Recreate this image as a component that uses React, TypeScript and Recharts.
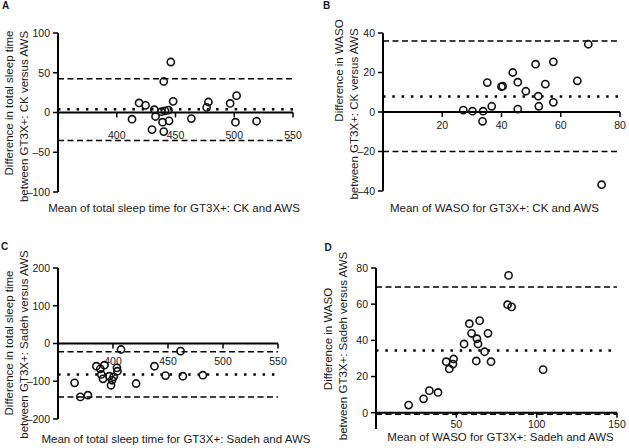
import { ScatterChart, Scatter, XAxis, YAxis, ReferenceLine, ReferenceDot } from 'recharts'

const FONT = '"Liberation Sans", Arial, Helvetica, sans-serif'
const INK = '#1a1a1a'

// A: total sleep time, GT3X+ CK vs AWS
const tstCkMean = [446, 440, 419, 424.5, 448, 432, 438, 441, 444, 433, 413, 444.5, 439, 430, 440, 463.5, 478, 476.5, 496.5, 502, 501, 519]
const tstCkDiff = [63.5, 39, 12, 9, 14, 3.5, 1, 2, 3, -5, -8.4, -10.5, -12.2, -21.6, -24, -7.6, 13.2, 6.4, 11.4, 21.2, -12.2, -11]
const tstCkLimits = [42.4, 4.2, -35.2] // upper LoA, bias, lower LoA

// B: WASO, GT3X+ CK vs AWS
const wasoCkMean = [69.3, 51.5, 57.5, 43.8, 35.2, 40, 40.4, 45.5, 54.8, 65.6, 48.2, 52.4, 57.5, 52.6, 36.7, 45.5, 27.1, 30.2, 33.8, 33.6, 73.8]
const wasoCkDiff = [34.3, 24.2, 25.4, 20, 14.9, 12.8, 13.1, 15.1, 14.1, 15.8, 10.5, 8, 4.9, 2.9, 2.9, 1.5, 1, 0.4, 0.4, -4.7, -36.8]
const wasoCkLimits = [36, 7.8, -20]

// C: total sleep time, GT3X+ Sadeh vs AWS
const tstSadehMean = [407.3, 461.4, 384.9, 388.5, 392.2, 403.6, 404, 437.7, 389.4, 390.9, 396.7, 400.6, 399.1, 398.2, 365.1, 421, 447.7, 463.5, 481.7, 370.3, 377.2]
const tstSadehDiff = [-15.9, -20.3, -60.2, -67, -57.5, -64.5, -73.4, -60.2, -82, -93.7, -86.7, -88.4, -97.3, -110.6, -104.3, -106, -85, -86.7, -84, -141.5, -137]
const tstSadehLimits = [-22, -82.2, -141.5]

// D: WASO, GT3X+ Sadeh vs AWS
const wasoSadehMean = [82.5, 81.9, 84.4, 58.1, 64.5, 59.5, 69.7, 62.8, 63.5, 54.8, 67.6, 62.4, 71.6, 43.7, 48.3, 47.9, 45.6, 33.2, 38.6, 29.6, 20.3, 104]
const wasoSadehDiff = [75.9, 59.7, 58.5, 49.2, 50.9, 43.9, 43.9, 40.9, 38, 38, 33.7, 28.6, 28.2, 28.2, 29.7, 26.9, 24.2, 12.2, 11.2, 7.7, 4.2, 23.8]
const wasoSadehLimits = [69.5, 34.4, -0.9]

const zip = (xs: number[], ys: number[]) => xs.map((x, i) => ({ x, y: ys[i] }))

const ring = (p: any) => <circle cx={p.cx} cy={p.cy} r={3.6} fill="none" stroke="#111" strokeWidth={1.6} />

const yTick = (p: any) => (
  <text x={p.x} y={p.y} dy={3.8} textAnchor="end" fontSize={10.5} fill={INK} fontFamily={FONT}>
    {String(p.payload.value).replace('-', '\u2013')}
  </text>
)

const xTick = (value: number, gap: number) => (p: any) => (
  <g>
    <line x1={p.cx} y1={p.cy} x2={p.cx} y2={p.cy + 5} stroke="#000" strokeWidth={1.5} />
    <text x={p.cx} y={p.cy + gap} textAnchor="middle" fontSize={10.5} fill={INK} fontFamily={FONT}>{value}</text>
  </g>
)

function Panel({ left, top, mean, diff, limits, xDomain, xTicks, yDomain, yTicks, margin, yWidth, gap }: any) {
  return (
    <div style={{ position: 'absolute', left, top }}>
      <ScatterChart width={314} height={224} margin={margin}>
        <XAxis type="number" dataKey="x" domain={xDomain} allowDataOverflow hide />
        <YAxis type="number" dataKey="y" domain={yDomain} ticks={yTicks} interval={0} allowDataOverflow width={yWidth}
          axisLine={{ stroke: '#000', strokeWidth: 2 }} tickLine={{ stroke: '#000', strokeWidth: 1.5 }} tickSize={5} tickMargin={3}
          tick={yTick} />
        <ReferenceLine y={0} stroke="#000" strokeWidth={2} />
        <ReferenceLine y={limits[0]} stroke="#000" strokeWidth={1.5} strokeDasharray="6 3.5" />
        <ReferenceLine y={limits[2]} stroke="#000" strokeWidth={1.5} strokeDasharray="6 3.5" />
        <ReferenceLine y={limits[1]} stroke="#000" strokeWidth={2.5} strokeDasharray="2.5 6.8" />
        {xTicks.map((t: number) => (
          <ReferenceDot key={t} x={t} y={0} r={0} shape={xTick(t, gap)} />
        ))}
        <Scatter data={zip(mean, diff)} shape={ring} isAnimationActive={false} />
      </ScatterChart>
    </div>
  )
}

const T = { fontFamily: FONT, fill: INK, fontSize: 11.5 }

export default function App() {
  return (
    <div style={{ position: 'absolute', left: 0, top: 0, width: 629, height: 448, background: '#fff', overflow: 'hidden' }}>
      <Panel left={0} top={0} mean={tstCkMean} diff={tstCkDiff} limits={tstCkLimits}
        xDomain={[350, 550]} xTicks={[400, 450, 500, 550]} yDomain={[-100, 100]} yTicks={[-100, -50, 0, 50, 100]}
        margin={{ top: 33, right: 21, bottom: 32, left: 0 }} yWidth={58} gap={26} />
      <Panel left={314} top={0} mean={wasoCkMean} diff={wasoCkDiff} limits={wasoCkLimits}
        xDomain={[0, 80]} xTicks={[20, 40, 60, 80]} yDomain={[-40, 40]} yTicks={[-40, -20, 0, 20, 40]}
        margin={{ top: 33, right: 8, bottom: 33, left: 0 }} yWidth={69} gap={16.5} />
      <Panel left={0} top={224} mean={tstSadehMean} diff={tstSadehDiff} limits={tstSadehLimits}
        xDomain={[350, 550]} xTicks={[400, 450, 500, 550]} yDomain={[-200, 200]} yTicks={[-200, -100, 0, 100, 200]}
        margin={{ top: 44, right: 36, bottom: 29, left: 0 }} yWidth={58} gap={21} />
      <Panel left={314} top={224} mean={wasoSadehMean} diff={wasoSadehDiff} limits={wasoSadehLimits}
        xDomain={[0, 150]} xTicks={[50, 100, 150]} yDomain={[-9, 80]} yTicks={[0, 20, 40, 60, 80]}
        margin={{ top: 44, right: 11, bottom: 19, left: 0 }} yWidth={62} gap={15} />

      <svg width={629} height={448} style={{ position: 'absolute', left: 0, top: 0, pointerEvents: 'none' }}>
        <g fontFamily={FONT} fontWeight="bold" fontSize={10} fill={INK}>
          <text x={2} y={9}>A</text>
          <text x={323} y={8.5}>B</text>
          <text x={1} y={250}>C</text>
          <text x={324.5} y={251}>D</text>
        </g>
        <g {...T} textAnchor="middle" dominantBaseline="central">
          <text transform="translate(8.5,103) rotate(-90)">Difference in total sleep time</text>
          <text transform="translate(23.5,116.5) rotate(-90)">between GT3X+: CK versus AWS</text>
          <text x={174} y={208}>Mean of total sleep time for GT3X+: CK and AWS</text>

          <text transform="translate(339,70.5) rotate(-90)">Difference in WASO</text>
          <text transform="translate(354,114) rotate(-90)">between GT3X+: CK versus AWS</text>
          <text x={494.5} y={208}>Mean of WASO for GT3X+: CK and AWS</text>

          <text transform="translate(8.5,343) rotate(-90)">Difference in total sleep time</text>
          <text transform="translate(23.5,344.5) rotate(-90)">between GT3X+: Sadeh versus AWS</text>
          <text x={176} y={439}>Mean of total sleep time for GT3X+: Sadeh and AWS</text>

          <text transform="translate(327.5,339) rotate(-90)">Difference in WASO</text>
          <text transform="translate(342.5,346) rotate(-90)">between GT3X+: Sadeh versus AWS</text>
          <text x={500.5} y={437}>Mean of WASO for GT3X+: Sadeh and AWS</text>
        </g>
      </svg>
    </div>
  )
}
